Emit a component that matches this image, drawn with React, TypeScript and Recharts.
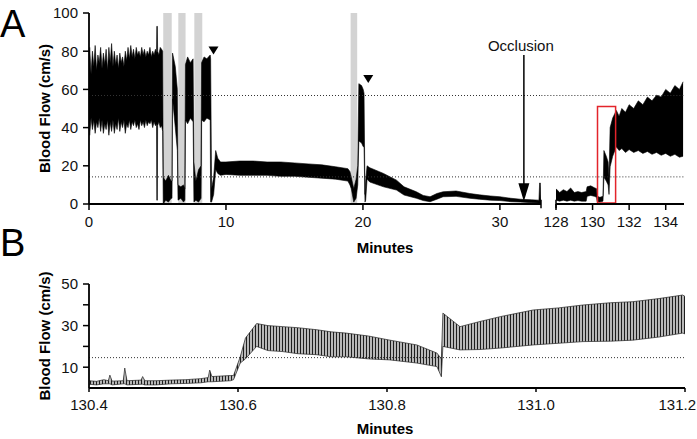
import {
  Area,
  ComposedChart,
  ReferenceArea,
  ReferenceDot,
  ReferenceLine,
  XAxis,
  YAxis,
} from 'recharts'

// Panel A, first segment (0–33 min): envelope of the raw flow trace (cm/s)
const A1_MIN = [
  0, 0.05, 0.15, 0.25, 0.35, 0.45, 0.55, 0.65, 0.75, 0.85, 0.95, 1.05, 1.15, 1.25, 1.35, 1.45, 1.55,
  1.65, 1.75, 1.85, 1.95, 2.05, 2.15, 2.25, 2.35, 2.45, 2.55, 2.65, 2.75, 2.85, 2.95, 3.05, 3.15,
  3.25, 3.35, 3.45, 3.55, 3.65, 3.75, 3.85, 3.95, 4.05, 4.15, 4.25, 4.35, 4.45, 4.55, 4.65, 4.75,
  4.85, 4.93, 4.95, 4.99, 5.01, 5.1, 5.2, 5.3, 5.38, 5.42, 5.6, 5.8, 6.0, 6.06, 6.1, 6.3,
  6.45, 6.5, 6.7, 6.9, 7.0, 7.04, 7.2, 7.4, 7.6, 7.66, 7.8, 8.0, 8.18, 8.22, 8.4, 8.6, 8.85, 8.88,
  8.95, 9.1, 9.25, 9.4, 9.6, 10, 11, 12, 13, 14, 15, 16, 17, 18, 18.9, 19.05, 19.15, 19.33, 19.5,
  19.62, 19.7, 19.9, 20.02, 20.08, 20.15, 20.2, 20.3, 20.5, 21.5, 22.45, 23.0, 23.9, 24.4, 24.9,
  25.4, 25.85, 26.8, 27.8, 28.5, 29.3, 30, 30.8, 31.5, 32.3, 32.85, 32.9, 32.95, 33,
]
const A1_LOW = [
  44, 36, 45, 39, 44, 37, 43, 40, 45, 38, 44, 37, 42, 39, 44, 36, 43,
  38, 44, 37, 42, 39, 45, 38, 43, 40, 44, 37, 42, 40, 44, 39, 43,
  41, 44, 40, 42, 39, 44, 41, 43, 40, 44, 41, 43, 42, 44, 40, 43,
  41, 42, 2, 2, 41, 43, 40, 41, 38, 0, 2, 1, 3, 3, 55, 40,
  28, 2, 3, 1, 2, 44, 42, 45, 43, 1, 2, 1, 3, 44, 43, 45, 44, 1,
  1, 5, 18, 16, 15, 15.5, 15, 15, 15, 14.5, 14.5, 14, 13.5, 13, 12, 10, 8, 1, 3,
  10, 33, 32, 30, 30, 1, 2, 13, 11.5, 9, 7.3, 4.7, 3, 1.8, 1.2,
  2.5, 3.8, 4, 3, 2.5, 2, 1.8, 1.2, 1, 0.7, 0.5, 0, 0, 0.5,
]
const A1_HIGH = [
  70, 82, 68, 80, 72, 83, 70, 78, 74, 82, 71, 79, 73, 81, 70, 82, 74,
  84, 72, 80, 73, 78, 71, 79, 74, 77, 72, 80, 75, 82, 76, 83, 77,
  81, 76, 82, 78, 80, 77, 82, 78, 81, 77, 80, 78, 82, 77, 80, 78,
  81, 79, 93, 93, 80, 78, 82, 81, 80, 14, 12, 15, 12, 12, 79, 72,
  60, 10, 9, 10, 8, 73, 77, 74, 76, 22, 12, 18, 20, 74, 77, 76, 78, 76,
  8, 14, 28, 24, 22, 22, 22.5, 22.5, 22, 22, 21.5, 21, 20.5, 19.5, 18.5, 17, 14, 8, 13,
  20, 63, 62, 60, 58, 5, 12, 20, 19, 16, 12.5, 9, 6.4, 4.5, 3.8,
  5.5, 6.4, 6.8, 5.5, 4.8, 4.2, 3.8, 3, 2.5, 2.2, 2, 11, 11, 1.5,
]

// Panel A, second segment (128–135 min)
const A2_MIN = [
  128, 128.2, 128.4, 128.6, 128.8, 129, 129.2, 129.4, 129.65, 129.7, 129.9, 130.1, 130.22, 130.25,
  130.4, 130.57, 130.62, 130.75, 130.85, 130.9, 130.96, 131.1, 131.3, 131.45, 131.6, 131.8, 132,
  132.25, 132.5, 132.75, 133, 133.25, 133.5, 133.75, 134, 134.25, 134.5, 134.75, 134.95,
]
const A2_LOW = [
  2, 1.5, 2, 1.5, 2, 1.5, 1.8, 1.5, 1.5, 4, 4.5, 4, 3.5, 1.2,
  1, 1.5, 14, 12, 10, 5, 19.5, 25, 30, 28, 29, 27, 28.5,
  27, 28, 26.5, 27.5, 26, 27, 25.5, 26.5, 25, 26, 24.5, 25,
]
const A2_HIGH = [
  8, 6, 7.5, 6.5, 8.4, 6, 6.5, 6, 6.5, 9, 9.5, 8.5, 8, 4,
  3.5, 4, 28, 25, 22, 14, 40, 45, 49, 46, 50, 48, 52,
  50, 54, 52, 56, 54, 57, 56, 60, 58, 62, 60, 64,
]

// Panel B (130.4–131.2 min), zoomed envelope
const B_MIN = [
  130.4, 130.41, 130.42, 130.426, 130.428, 130.431, 130.446, 130.448, 130.451, 130.47, 130.472,
  130.475, 130.49, 130.51, 130.53, 130.55, 130.56, 130.562, 130.565, 130.59, 130.594, 130.603,
  130.61, 130.625, 130.64, 130.66, 130.68, 130.706, 130.725, 130.745, 130.775, 130.804, 130.84,
  130.867, 130.873, 130.875, 130.898, 130.925, 130.952, 130.996, 131.03, 131.063, 131.1, 131.13,
  131.165, 131.197, 131.2,
]
const B_LOW = [
  1.8, 1.5, 2, 2, 2, 1.5, 2, 2, 1.5, 1.8, 1.8,
  1.5, 1.5, 2, 2.2, 2.5, 3, 3, 3, 3.5, 4, 12,
  14, 20, 18, 17.5, 16.5, 16, 15, 15, 14, 13.5, 12,
  10.3, 5.4, 20, 18.3, 18.5, 19.2, 20.7, 21.5, 22.3, 22.5, 23,
  24.5, 26.4, 26,
]
const B_HIGH = [
  3.5, 3.2, 4, 3.5, 6.2, 3.3, 3.5, 9.6, 3.5, 3.8, 5.5,
  3.5, 3.5, 3.8, 4, 4.5, 5, 8.6, 5.5, 6, 6, 15,
  24, 31, 30, 29.5, 29, 28, 27, 26.4, 25, 23, 20.7,
  16.8, 14, 36, 29.5, 32, 34.3, 37.5, 38.5, 39.9, 41, 41.5,
  43, 44.7, 44,
]

const BANDS_A = [
  [5.42, 6.04],
  [6.52, 7.05],
  [7.69, 8.27],
  [19.1, 19.58],
]
const MARKERS_A = [
  [9.09, 80.4],
  [20.39, 65.4],
]
const OCCLUSION_MIN = 31.75
const DOTTED_A = [56.8, 14.2]
const DOTTED_B = 14.6

const toRows = (xs: number[], lo: number[], hi: number[]) =>
  xs.map((m, i) => ({ m, range: [lo[i], hi[i]] }))

const a1Data = toRows(A1_MIN, A1_LOW, A1_HIGH)
const a2Data = toRows(A2_MIN, A2_LOW, A2_HIGH)
const bData = toRows(B_MIN, B_LOW, B_HIGH)

const FONT = "'Liberation Sans', Arial, sans-serif"
const tickStyle = { fill: '#111', fontSize: 15, fontFamily: FONT }
const axisLine = { stroke: '#000', strokeWidth: 1.8 }
const tickLine = { stroke: '#000', strokeWidth: 1.5 }
const yLabel = {
  value: 'Blood Flow (cm/s)',
  angle: -90,
  position: 'center' as const,
  style: { fontFamily: FONT, fontSize: 15, fontWeight: 700, fill: '#000' },
}

function DownTriangle({ cx, cy }: { cx?: number; cy?: number }) {
  if (cx == null || cy == null) return null
  return <polygon points={`${cx - 5},${cy - 4} ${cx + 5},${cy - 4} ${cx},${cy + 4}`} fill="#000" />
}

function ArrowHead({ cx, cy }: { cx?: number; cy?: number }) {
  if (cx == null || cy == null) return null
  return <polygon points={`${cx - 5.5},${cy - 18} ${cx + 5.5},${cy - 18} ${cx},${cy}`} fill="#000" />
}

function OcclusionText({ cx, cy }: { cx?: number; cy?: number }) {
  if (cx == null || cy == null) return null
  return (
    <text x={cx - 3} y={cy} textAnchor="middle" fontFamily={FONT} fontSize={15} fill="#111">
      Occlusion
    </text>
  )
}

function BTick(props: any) {
  const { x, y, payload } = props
  const last = payload.value >= 131.2
  return (
    <text
      x={last ? 696 : x}
      y={y}
      dy="0.71em"
      textAnchor={last ? 'end' : 'middle'}
      {...tickStyle}
    >
      {payload.value.toFixed(1)}
    </text>
  )
}

const trace = (fill: string, stroke: string, width: number) => (
  <Area
    type="linear"
    dataKey="range"
    stroke={stroke}
    strokeWidth={width}
    fill={fill}
    fillOpacity={1}
    dot={false}
    activeDot={false}
    isAnimationActive={false}
  />
)

const abs = (left: number, top: number): React.CSSProperties => ({ position: 'absolute', left, top })

export default function App() {
  return (
    <div style={{ position: 'absolute', left: 0, top: 0, width: 697, height: 439, background: '#fff', fontFamily: FONT }}>
      <div style={{ ...abs(0, 5), fontSize: 38, lineHeight: '38px' }}>A</div>
      <div style={{ ...abs(0, 224), fontSize: 38, lineHeight: '38px' }}>B</div>

      {/* Panel A, 0–33 min */}
      <div style={abs(0, 0)}>
        <ComposedChart width={564} height={256} data={a1Data} margin={{ top: 13, right: 23, bottom: 0, left: 0 }}>
          <XAxis
            dataKey="m"
            type="number"
            domain={[0, 33]}
            ticks={[0, 10, 20, 30]}
            allowDataOverflow
            height={52}
            tick={tickStyle}
            tickSize={6}
            tickMargin={6}
            axisLine={axisLine}
            tickLine={tickLine}
          />
          <YAxis
            type="number"
            domain={[0, 100]}
            ticks={[0, 20, 40, 60, 80, 100]}
            width={89}
            tick={tickStyle}
            tickSize={6}
            tickMargin={5}
            axisLine={axisLine}
            tickLine={tickLine}
            label={yLabel}
          />
          {BANDS_A.map(([x1, x2]) => (
            <ReferenceArea key={x1} x1={x1} x2={x2} y1={0} y2={100} fill="#d3d3d3" fillOpacity={1} stroke="none" />
          ))}
          {DOTTED_A.map((v) => (
            <ReferenceLine key={v} y={v} stroke="#333" strokeWidth={1} strokeDasharray="1 2" />
          ))}
          {trace('#000', '#000', 0.6)}
          {MARKERS_A.map(([x, y]) => (
            <ReferenceDot key={x} x={x} y={y} r={0} shape={<DownTriangle />} ifOverflow="visible" />
          ))}
          <ReferenceLine
            segment={[
              { x: OCCLUSION_MIN, y: 78 },
              { x: OCCLUSION_MIN, y: 10 },
            ]}
            stroke="#000"
            strokeWidth={1.5}
          />
          <ReferenceDot x={OCCLUSION_MIN} y={1.5} r={0} shape={<ArrowHead />} ifOverflow="visible" />
          <ReferenceDot x={OCCLUSION_MIN} y={80} r={0} shape={<OcclusionText />} ifOverflow="visible" />
          <ReferenceLine
            segment={[
              { x: 33, y: -2.2 },
              { x: 33, y: 2.2 },
            ]}
            stroke="#000"
            strokeWidth={1.5}
            ifOverflow="visible"
          />
        </ComposedChart>
      </div>

      {/* Panel A, 128–135 min */}
      <div style={abs(541, 0)}>
        <ComposedChart width={156} height={256} data={a2Data} margin={{ top: 13, right: 13, bottom: 0, left: 15 }}>
          <XAxis
            dataKey="m"
            type="number"
            domain={[128, 135]}
            ticks={[128, 130, 132, 134]}
            allowDataOverflow
            height={52}
            tick={tickStyle}
            tickSize={6}
            tickMargin={6}
            interval={0}
            axisLine={axisLine}
            tickLine={tickLine}
          />
          <YAxis type="number" domain={[0, 100]} hide />
          {DOTTED_A.map((v) => (
            <ReferenceLine
              key={v}
              segment={[
                { x: 127.2, y: v },
                { x: 135, y: v },
              ]}
              stroke="#333"
              strokeWidth={1}
              strokeDasharray="1 2"
              ifOverflow="visible"
            />
          ))}
          {trace('#000', '#000', 0.6)}
          <ReferenceArea
            x1={130.27}
            x2={131.26}
            y1={0.5}
            y2={51}
            fill="none"
            stroke="#e3242b"
            strokeWidth={1.5}
            ifOverflow="visible"
          />
          <ReferenceLine
            segment={[
              { x: 128, y: -2.2 },
              { x: 128, y: 2.2 },
            ]}
            stroke="#000"
            strokeWidth={1.5}
            ifOverflow="visible"
          />
        </ComposedChart>
      </div>
      <div style={{ ...abs(335, 240), width: 100, textAlign: 'center', fontSize: 15, fontWeight: 700, lineHeight: '15px' }}>
        Minutes
      </div>

      {/* Panel B */}
      <div style={abs(0, 270)}>
        <ComposedChart width={697} height={168} data={bData} margin={{ top: 14, right: 12, bottom: 0, left: 0 }}>
          <defs>
            <pattern id="osc" width="3" height="6" patternUnits="userSpaceOnUse">
              <rect width="3" height="6" fill="#b8b8b8" />
              <rect width="1" height="6" fill="#1e1e1e" />
            </pattern>
          </defs>
          <XAxis
            dataKey="m"
            type="number"
            domain={[130.4, 131.2]}
            ticks={[130.4, 130.6, 130.8, 131.0, 131.2]}
            allowDataOverflow
            height={50}
            interval={0}
            tick={<BTick />}
            tickSize={4}
            tickMargin={7}
            axisLine={axisLine}
            tickLine={tickLine}
          />
          <YAxis
            type="number"
            domain={[0, 50]}
            ticks={[10, 20, 30, 40, 50]}
            width={89}
            tick={tickStyle}
            tickFormatter={(v: number) => (v % 20 === 10 ? String(v) : '')}
            tickSize={6}
            tickMargin={5}
            axisLine={axisLine}
            tickLine={tickLine}
            label={yLabel}
          />
          <ReferenceLine y={DOTTED_B} stroke="#333" strokeWidth={1} strokeDasharray="1 2" />
          {trace('url(#osc)', '#222', 0.7)}
        </ComposedChart>
      </div>
      <div style={{ ...abs(335, 421), width: 100, textAlign: 'center', fontSize: 15, fontWeight: 700, lineHeight: '15px' }}>
        Minutes
      </div>
    </div>
  )
}
